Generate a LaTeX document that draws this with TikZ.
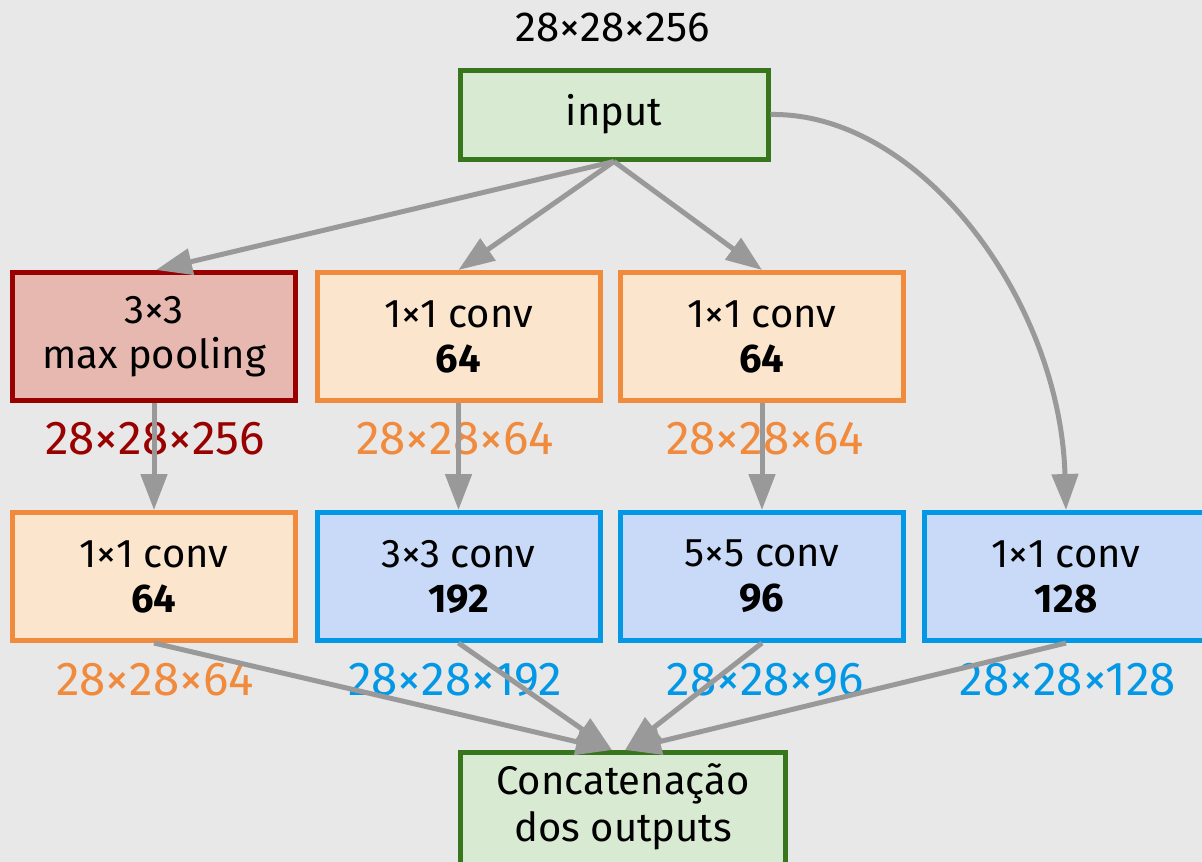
\documentclass[tikz,border=0pt]{standalone}
\usepackage{fontspec}
\setmainfont{Fira Sans}
\usetikzlibrary{arrows.meta}

\definecolor{bgc}{HTML}{E8E8E8}
\definecolor{arrowc}{HTML}{999999}
\definecolor{greenline}{HTML}{38761D}
\definecolor{greenfill}{HTML}{D9EAD3}
\definecolor{redline}{HTML}{990000}
\definecolor{redfill}{HTML}{E6B8AF}
\definecolor{orangeline}{HTML}{F08A3C}
\definecolor{orangefill}{HTML}{FCE5CD}
\definecolor{blueline}{HTML}{0398E6}
\definecolor{bluefill}{HTML}{C9DAF8}

\tikzset{
  box/.style={draw, line width=5pt, rectangle, inner sep=0pt,
    minimum width=283pt, minimum height=128pt, align=center,
    font=\fontsize{40}{49}\selectfont},
  greenbox/.style={box, draw=greenline, fill=greenfill},
  redbox/.style={box, draw=redline, fill=redfill},
  orangebox/.style={box, draw=orangeline, fill=orangefill},
  bluebox/.style={box, draw=blueline, fill=bluefill},
  dimlabel/.style={inner sep=0pt, font=\fontsize{47.5}{54}\selectfont},
  flow/.style={draw=arrowc, line width=5pt,
    -{Triangle[length=36pt,width=26pt]}, arrowc},
}

\begin{document}
\begin{tikzpicture}[x=1pt, y=-1pt]
  \fill[bgc] (0,0) rectangle (1202,862);
  \useasboundingbox (0,0) rectangle (1202,862);

  % input block and its size
  \node[inner sep=0pt, font=\fontsize{42}{48}\selectfont] (topdim) at (613,27) {28×28×256};
  \node[greenbox, minimum width=308pt, minimum height=89pt] (input) at (614,114.5) {input};

  % first row
  \node[redbox] (pool) at (154,336.5) {3×3\\[-4pt]max pooling};
  \node[orangebox] (red1) at (458.5,336.5) {1×1 conv\\[-4pt]\textbf{64}};
  \node[orangebox] (red2) at (762,336.5) {1×1 conv\\[-4pt]\textbf{64}};

  % second row
  \node[orangebox] (c1) at (154,576.5) {1×1 conv\\[-4pt]\textbf{64}};
  \node[bluebox] (c3) at (458.5,576.5) {3×3 conv\\[-4pt]\textbf{192}};
  \node[bluebox] (c5) at (762,576.5) {5×5 conv\\[-4pt]\textbf{96}};
  \node[bluebox] (c1b) at (1066,576.5) {1×1 conv\\[-4pt]\textbf{128}};

  % output block
  \node[greenbox, minimum width=325pt, minimum height=130pt] (concat) at (623,817.5) {};
  \node[inner sep=0pt, align=center, font=\fontsize{40}{47}\selectfont] (concattext) at (623,807) {Concatenação\\dos outputs};

  % tensor sizes between the layers
  \node[dimlabel, text=redline] (d1) at (155,439) {28×28×256};
  \node[dimlabel, text=orangeline] (d2) at (455,439) {28×28×64};
  \node[dimlabel, text=orangeline] (d3) at (765,439) {28×28×64};
  \node[dimlabel, text=orangeline] (d4) at (155,680) {28×28×64};
  \node[dimlabel, text=blueline] (d5) at (455,680) {28×28×192};
  \node[dimlabel, text=blueline] (d6) at (765,680) {28×28×96};
  \node[dimlabel, text=blueline] (d7) at (1068,680) {28×28×128};

  % connections
  \draw[flow] (input.south) -- ([xshift=2pt]pool.north);
  \draw[flow] (input.south) -- (red1.north);
  \draw[flow] (input.south) -- (red2.north);
  \draw[flow] (input.east) .. controls (920,112) and (1060,300) .. (c1b.north);

  \draw[flow] (pool.south) -- (c1.north);
  \draw[flow] (red1.south) -- (c3.north);
  \draw[flow] (red2.south) -- (c5.north);

  \draw[flow] (c1.south) -- ([xshift=-11pt]concat.north);
  \draw[flow] (c3.south) -- ([xshift=-11pt]concat.north);
  \draw[flow] (c5.south) -- ([xshift=2pt]concat.north);
  \draw[flow] (c1b.south) -- ([xshift=2pt]concat.north);
\end{tikzpicture}
\end{document}
